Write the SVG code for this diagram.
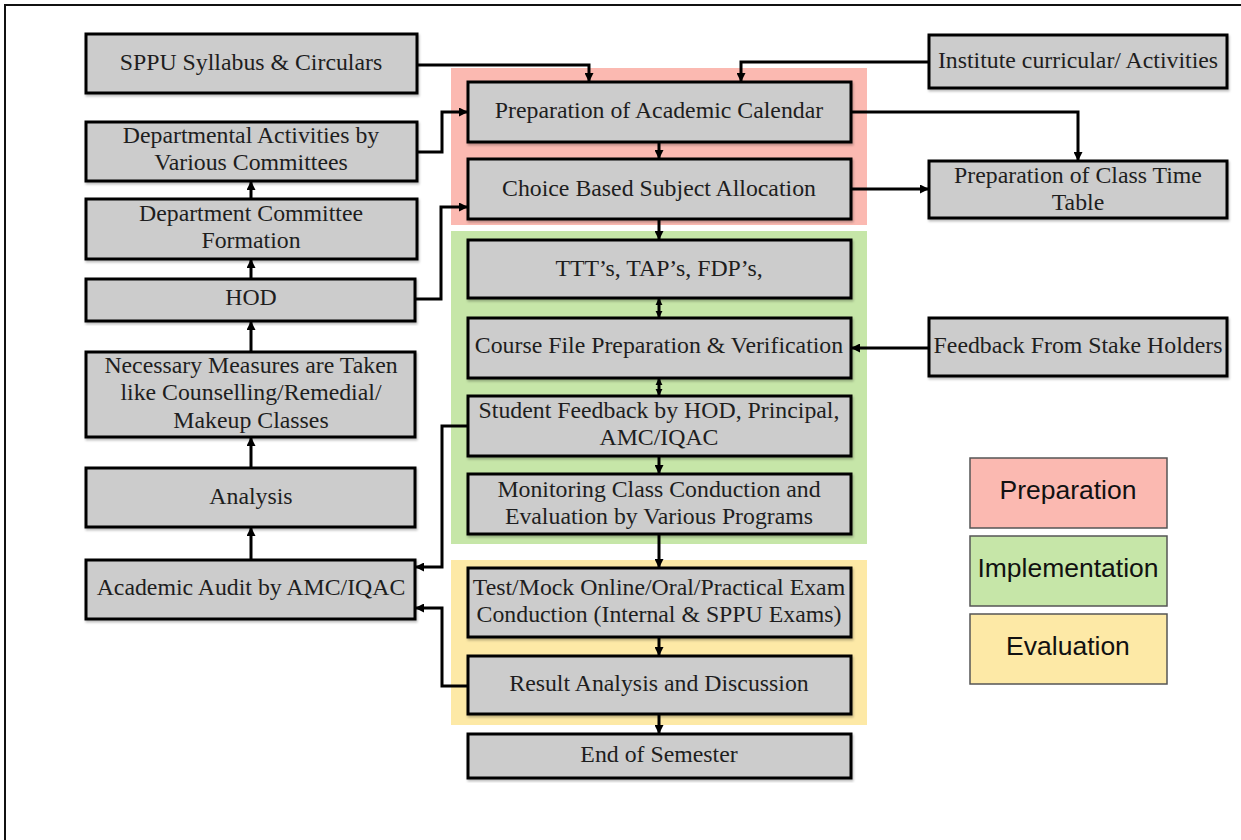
<svg xmlns="http://www.w3.org/2000/svg" width="1241" height="840" viewBox="0 0 1241 840">
<defs>
<marker id="ah" viewBox="0 0 10 10" refX="10" refY="5" markerWidth="3" markerHeight="3" orient="auto-start-reverse" markerUnits="strokeWidth">
<path d="M0,0 L10,5 L0,10 z" fill="#000"/>
</marker>
<marker id="ahs" viewBox="0 0 10 10" refX="10" refY="5" markerWidth="2.3" markerHeight="2.6" orient="auto-start-reverse" markerUnits="strokeWidth">
<path d="M0,0 L10,5 L0,10 z" fill="#000"/>
</marker>
<filter id="sh" x="-5%" y="-5%" width="110%" height="115%">
<feDropShadow dx="1" dy="2" stdDeviation="1.2" flood-color="#000" flood-opacity="0.25"/>
</filter>
</defs>
<style>
.box{fill:#cccccc;stroke:#000;stroke-width:3;filter:url(#sh)}
.t{font-family:"Liberation Serif",serif;font-size:23.8px;fill:#1e1e1e;text-anchor:middle}
.lg{font-family:"Liberation Sans",sans-serif;font-size:26.5px;fill:#111;text-anchor:middle}
.lgb{stroke:#555;stroke-width:1.5}
.c{fill:none;stroke:#000;stroke-width:3;marker-end:url(#ah)}
.d{fill:none;stroke:#000;stroke-width:3;marker-start:url(#ahs);marker-end:url(#ahs)}
</style>
<rect width="1241" height="840" fill="#fff"/>
<polyline points="5,840 5,5 1241,5" fill="none" stroke="#111" stroke-width="2"/>

<g id="phases">
<rect x="451" y="68" width="416" height="157" fill="#fbb9b1"/>
<rect x="451" y="231" width="416" height="313" fill="#c6e6a8"/>
<rect x="451" y="560" width="416" height="165" fill="#fde9a6"/>
</g>

<g id="connectors">
<polyline class="c" points="417,65 589,65 589,82"/>
<polyline class="c" points="929,62 741,62 741,82"/>
<polyline class="c" points="417,152 442,152 442,112 468,112"/>
<polyline class="c" points="415,299 441,299 441,207 468,207"/>
<line class="c" x1="251" y1="199" x2="251" y2="181"/>
<line class="c" x1="251" y1="279" x2="251" y2="259"/>
<line class="c" x1="251" y1="352" x2="251" y2="321"/>
<line class="c" x1="251" y1="468" x2="251" y2="437"/>
<line class="c" x1="251" y1="560" x2="251" y2="527"/>
<polyline class="c" points="851,112 1078,112 1078,161"/>
<line class="c" x1="851" y1="189" x2="929" y2="189"/>
<line class="c" x1="659" y1="142" x2="659" y2="159"/>
<line class="c" x1="659" y1="219" x2="659" y2="240"/>
<line class="d" x1="659" y1="298" x2="659" y2="318"/>
<line class="d" x1="659" y1="378" x2="659" y2="396"/>
<line class="c" x1="659" y1="456" x2="659" y2="474"/>
<line class="c" x1="659" y1="534" x2="659" y2="568"/>
<line class="c" x1="659" y1="637" x2="659" y2="656"/>
<line class="c" x1="659" y1="714" x2="659" y2="734"/>
<line class="c" x1="929" y1="348" x2="851" y2="348"/>
<polyline class="c" points="468,426 442,426 442,567 415,567"/>
<polyline class="c" points="468,686 442,686 442,608 415,608"/>
</g>

<g id="n-sppu"><rect class="box" x="86" y="34" width="331" height="59"/><text class="t" x="251" y="70">SPPU Syllabus &amp; Circulars</text></g>
<g id="n-deptact"><rect class="box" x="86" y="122" width="331" height="59"/><text class="t" x="251" y="143">Departmental Activities by</text><text class="t" x="251" y="170">Various Committees</text></g>
<g id="n-deptcom"><rect class="box" x="86" y="199" width="331" height="60"/><text class="t" x="251" y="221">Department Committee</text><text class="t" x="251" y="248">Formation</text></g>
<g id="n-hod"><rect class="box" x="86" y="279" width="329" height="42"/><text class="t" x="251" y="305">HOD</text></g>
<g id="n-measures"><rect class="box" x="86" y="352" width="329" height="85"/><text class="t" x="251" y="373">Necessary Measures are Taken</text><text class="t" x="251" y="400">like Counselling/Remedial/</text><text class="t" x="251" y="428">Makeup Classes</text></g>
<g id="n-analysis"><rect class="box" x="86" y="468" width="329" height="59"/><text class="t" x="251" y="504">Analysis</text></g>
<g id="n-audit"><rect class="box" x="86" y="560" width="329" height="59"/><text class="t" x="251" y="595">Academic Audit by AMC/IQAC</text></g>

<g id="n-calendar"><rect class="box" x="468" y="82" width="383" height="60"/><text class="t" x="659" y="118">Preparation of Academic Calendar</text></g>
<g id="n-choice"><rect class="box" x="468" y="159" width="383" height="60"/><text class="t" x="659" y="196">Choice Based Subject Allocation</text></g>
<g id="n-ttt"><rect class="box" x="468" y="240" width="383" height="58"/><text class="t" x="659" y="276">TTT’s, TAP’s, FDP’s,</text></g>
<g id="n-course"><rect class="box" x="468" y="318" width="383" height="60"/><text class="t" x="659" y="353">Course File Preparation &amp; Verification</text></g>
<g id="n-student"><rect class="box" x="468" y="396" width="383" height="60"/><text class="t" x="659" y="418">Student Feedback by HOD, Principal,</text><text class="t" x="659" y="445">AMC/IQAC</text></g>
<g id="n-monitor"><rect class="box" x="468" y="474" width="383" height="60"/><text class="t" x="659" y="497">Monitoring Class Conduction and</text><text class="t" x="659" y="524">Evaluation by Various Programs</text></g>
<g id="n-test"><rect class="box" x="468" y="568" width="383" height="69"/><text class="t" x="659" y="595">Test/Mock Online/Oral/Practical Exam</text><text class="t" x="659" y="622">Conduction (Internal &amp; SPPU Exams)</text></g>
<g id="n-result"><rect class="box" x="468" y="656" width="383" height="58"/><text class="t" x="659" y="691">Result Analysis and Discussion</text></g>
<g id="n-end"><rect class="box" x="468" y="734" width="383" height="44"/><text class="t" x="659" y="762">End of Semester</text></g>

<g id="n-institute"><rect class="box" x="929" y="35" width="298" height="53"/><text class="t" x="1078" y="68">Institute curricular/ Activities</text></g>
<g id="n-timetable"><rect class="box" x="929" y="161" width="298" height="57"/><text class="t" x="1078" y="183">Preparation of Class Time</text><text class="t" x="1078" y="210">Table</text></g>
<g id="n-stake"><rect class="box" x="929" y="318" width="298" height="58"/><text class="t" x="1078" y="353">Feedback From Stake Holders</text></g>

<g id="legend">
<g id="lg-prep"><rect class="lgb" x="970" y="458" width="197" height="70" fill="#fbb9b1"/><text class="lg" x="1068" y="499">Preparation</text></g>
<g id="lg-impl"><rect class="lgb" x="970" y="536" width="197" height="70" fill="#c6e6a8"/><text class="lg" x="1068" y="577">Implementation</text></g>
<g id="lg-eval"><rect class="lgb" x="970" y="614" width="197" height="70" fill="#fde9a6"/><text class="lg" x="1068" y="655">Evaluation</text></g>
</g>
</svg>
